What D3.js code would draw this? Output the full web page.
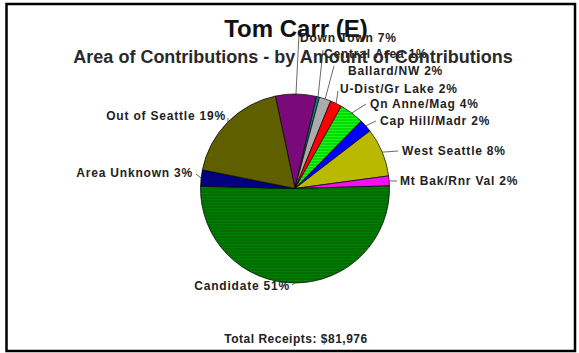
<!DOCTYPE html>
<html>
<head>
<meta charset="utf-8">
<script src="https://cdn.jsdelivr.net/npm/d3@7"></script>
<style>
  html, body { margin: 0; padding: 0; background: #fff; }
  svg { display: block; }
  text { font-family: "Liberation Sans", Arial, sans-serif; font-weight: bold; }
</style>
</head>
<body>
<svg id="chart" width="579" height="353"></svg>
<script>
// ---- data ----
const titleText = "Tom Carr (E)";
const subtitleText = "Area of Contributions - by Amount of Contributions";
const totalText = "Total Receipts: $81,976";
const categories = ["Down Town", "Central Area", "Ballard/NW", "U-Dist/Gr Lake", "Qn Anne/Mag",
  "Cap Hill/Madr", "West Seattle", "Mt Bak/Rnr Val", "Candidate", "Area Unknown", "Out of Seattle"];
const shares = [7.0, 0.5, 2.0, 2.0, 4.2, 2.2, 8.3, 1.7, 50.8, 2.8, 18.5];
const shareLabels = ["7%", "1%", "2%", "2%", "4%", "2%", "8%", "2%", "51%", "3%", "19%"];

// ---- layout / style ----
const fills = ["#7a0a7a", "#008080", "url(#pGrey)", "#ff0000", "url(#pLime)", "#0000ff",
  "url(#pYellow)", "#f010f0", "url(#pCand)", "#000080", "url(#pOlive)"];
// label placement: text x, baseline y, anchor, leader end point
const labelLayout = [
  {x: 300, y: 42, a: "start", ex: 299, ey: 34},
  {x: 324, y: 58, a: "start", ex: 323, ey: 50},
  {x: 348, y: 75, a: "start", ex: 334, ey: 66},
  {x: 340, y: 93, a: "start", ex: 338, ey: 91},
  {x: 370, y: 108, a: "start", ex: 366, ey: 104},
  {x: 380, y: 125, a: "start", ex: 376, ey: 121},
  {x: 402, y: 155, a: "start", ex: 398, ey: 151},
  {x: 400, y: 185, a: "start", ex: 397, ey: 181},
  {x: 290, y: 290, a: "end", ex: 292, ey: 285},
  {x: 193, y: 177, a: "end", ex: 196, ey: 174},
  {x: 226, y: 120, a: "end", ex: 228, ey: 118}
];

const cx = 295, cy = 188.5, R = 94.5;
const startDeg = -12;

const svg = d3.select("#chart");
const defs = svg.append("defs");

function dotPattern(id, base, dot, size) {
  const p = defs.append("pattern").attr("id", id).attr("patternUnits", "userSpaceOnUse")
    .attr("width", size).attr("height", size);
  p.append("rect").attr("width", size).attr("height", size).attr("fill", base);
  p.append("rect").attr("x", 0).attr("y", 0).attr("width", 1).attr("height", 1).attr("fill", dot);
  p.append("rect").attr("x", size / 2).attr("y", size / 2).attr("width", 1).attr("height", 1).attr("fill", dot);
}
function stripePattern(id, base, line, period, lw) {
  const p = defs.append("pattern").attr("id", id).attr("patternUnits", "userSpaceOnUse")
    .attr("width", 4).attr("height", period);
  p.append("rect").attr("width", 4).attr("height", period).attr("fill", base);
  p.append("rect").attr("y", 0).attr("width", 4).attr("height", lw).attr("fill", line);
}
dotPattern("pOlive", "#7e7e00", "#404000", 2);
dotPattern("pYellow", "#e6e600", "#8c8c00", 2);
dotPattern("pGrey", "#dcdcdc", "#7a7a7a", 2);
stripePattern("pLime", "#10ff10", "#00b000", 3, 1);
stripePattern("pCand", "#008000", "#005a00", 3, 1);

// frame
svg.append("rect").attr("x", 6.5).attr("y", 4).attr("width", 568.5).attr("height", 347)
  .attr("fill", "none").attr("stroke", "#000").attr("stroke-width", 2.5);

const pie = d3.pie().sort(null).value(d => d)
  .startAngle(startDeg * Math.PI / 180)
  .endAngle((startDeg + 360) * Math.PI / 180);
const arcs = pie(shares);
const arc = d3.arc().innerRadius(0).outerRadius(R);

const g = svg.append("g").attr("transform", `translate(${cx},${cy})`);
g.selectAll("path.slice").data(arcs).join("path")
  .attr("class", "slice")
  .attr("d", arc)
  .attr("fill", (d, i) => fills[i])
  .attr("stroke", "#000").attr("stroke-width", 0.7);

// leader lines
svg.append("g").selectAll("line").data(arcs).join("line")
  .attr("x1", d => cx + R * Math.sin((d.startAngle + d.endAngle) / 2))
  .attr("y1", d => cy - R * Math.cos((d.startAngle + d.endAngle) / 2))
  .attr("x2", (d, i) => labelLayout[i].ex)
  .attr("y2", (d, i) => labelLayout[i].ey)
  .attr("stroke", "#444").attr("stroke-width", 0.8);

// title
svg.append("text").attr("x", 296).attr("y", 37).attr("text-anchor", "middle")
  .attr("font-size", 24).attr("fill", "#111").text(titleText);

// labels
svg.append("g").selectAll("text").data(categories).join("text")
  .attr("x", (d, i) => labelLayout[i].x)
  .attr("y", (d, i) => labelLayout[i].y)
  .attr("text-anchor", (d, i) => labelLayout[i].a)
  .attr("font-size", 12).attr("letter-spacing", 0.8)
  .attr("fill", "#222")
  .text((d, i) => d + " " + shareLabels[i]);

svg.append("text").attr("x", 293).attr("y", 63).attr("text-anchor", "middle")
  .attr("font-size", 18).attr("fill", "#2a2a2a").text(subtitleText);

svg.append("text").attr("x", 296).attr("y", 343).attr("text-anchor", "middle")
  .attr("font-size", 12).attr("letter-spacing", 0.5).attr("fill", "#222").text(totalText);
</script>
</body>
</html>
